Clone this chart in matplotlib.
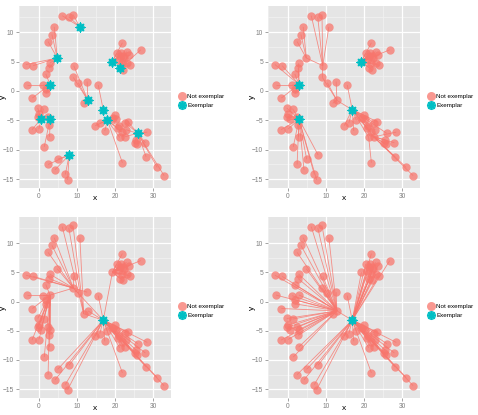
import matplotlib
matplotlib.use('Agg')
import matplotlib.pyplot as plt
from matplotlib.lines import Line2D
import numpy as np

plt.rcParams['font.family'] = ['Liberation Sans', 'DejaVu Sans']

# coordenadas dos pontos
pts_x = [6.2, 7.9, 9.0, 10.8, 4.1, 3.5, 2.5, 4.9, 2.9, 2.8,
         1.9, -3.3, -1.4, 3.0, -3.0, 1.2, 2.0, 2.0, -1.6, 9.2,
         9.1, 10.4, 12.7, 11.8, 12.9, 15.6, 16.9, 18.0, 14.8, 16.0,
         17.3, 19.9, 20.3, 21.0, 22.7, 22.9, 21.2, 22.5, 21.9, 25.9,
         28.4, 27.9, 25.8, 25.1, 28.1, 31.0, 32.8, -0.2, 1.3, -0.1,
         0.6, 3.0, -1.7, 0.1, 2.8, 2.9, 1.5, 8.0, 5.0, 2.5,
         4.3, 7.0, 7.6, 21.9, 26.7, 19.3, 21.4, 20.4, 21.6, 23.0,
         23.6, 22.4, 23.1, 23.8, 21.9, 20.7, 22.1, 21.2, 22.0, 20.8,
         21.8, 23.3, 19.5, 25.5, 0.2, 2.6]
pts_y = [12.8, 12.6, 13.0, 10.9, 10.9, 9.6, 8.4, 5.6, 4.7, 3.9,
         2.9, 4.5, 4.3, 1.1, 1.1, 1.0, 0.3, -0.4, -1.2, 4.3,
         2.3, 1.4, 1.6, -2.1, -1.6, 1.0, -3.2, -5.0, -5.9, -5.5,
         -6.8, -4.1, -4.8, -5.9, -5.4, -6.6, -7.9, -7.8, -12.2, -7.2,
         -7.0, -8.8, -9.1, -8.8, -11.2, -13.0, -14.4, -2.9, -3.0, -4.4,
         -4.8, -4.8, -6.6, -6.5, -5.8, -7.8, -9.5, -10.9, -11.6, -12.5,
         -13.4, -14.2, -15.1, 8.2, 7.0, 5.0, 3.9, 6.4, 6.4, 6.7,
         6.1, 5.6, 4.7, 4.4, 4.7, 5.3, 5.9, 5.9, 3.6, -6.3,
         -7.0, -5.2, -4.6, -8.3, -4.0, -4.4]

# ligacoes de cada painel: destino -> pontos de origem
links_1 = {3: [0, 1, 2], 7: [4, 5, 6, 8, 9, 11, 12], 13: [10, 14, 15, 16, 17, 18],
           24: [19, 20, 21, 22, 23], 26: [25],
           27: [28, 29, 30, 31, 32, 33, 36, 38, 79, 80, 82],
           39: [34, 35, 37, 40, 41, 42, 43, 44, 45, 46, 81, 83],
           50: [47, 48, 49, 52, 53, 84], 51: [54, 55, 56, 85], 57: [58, 59, 60, 61, 62],
           65: [67, 75, 77, 63], 66: [64, 68, 69, 70, 71, 72, 73, 74, 76, 78]}
exemplars_1 = [3, 7, 13, 24, 26, 27, 39, 50, 51, 57, 65, 66]

links_2 = {19: [0, 1, 2, 3, 7], 7: [4, 5, 6], 20: [19], 24: [20, 21, 22, 23],
           26: [24, 25, 27, 28, 29, 30, 31, 32, 33, 34, 35, 36,
                37, 39, 79, 80, 81, 82],
           37: [40, 41, 42, 43, 44, 45, 46, 83], 36: [38],
           13: [8, 9, 10, 11, 12, 14, 15, 16, 17, 18],
           51: [47, 48, 49, 50, 52, 53, 54, 55, 56, 57, 58, 59, 60, 61, 62, 84, 85],
           65: [63, 64, 66, 67, 68, 69, 70, 71, 72, 73, 74, 75, 76, 77, 78]}
exemplars_2 = [13, 26, 51, 65]

links_3 = {23: [0, 1, 2, 3],
           20: [4, 5, 6, 7, 8, 9, 11, 12, 13, 19, 21, 22],
           13: [10, 14, 15, 16, 17, 18, 47, 48, 49, 50, 51, 52, 53, 54, 55, 56, 59, 84, 85],
           26: [20, 23, 24, 25, 27, 28, 29, 30, 31, 32, 33, 34, 35, 36, 37, 38, 39, 40,
                41, 42, 43, 44, 45, 46, 57, 58, 60, 61, 62, 65, 79, 80, 81, 82, 83],
           65: [63, 64, 66, 67, 68, 69, 70, 71, 72, 73, 74, 75, 76, 77, 78]}
exemplars_3 = [26]

links_4 = {24: [0, 1, 2, 3, 4, 5, 6, 7, 8, 9, 10, 11, 12, 13, 14, 15, 16, 17, 18,
                19, 20, 21, 22, 23, 47, 48, 49, 50, 51, 52, 53, 54, 55, 56, 84, 85],
           26: [24, 25, 27, 28, 29, 30, 31, 32, 33, 34, 35, 36, 37, 38, 39, 40, 41,
                42, 43, 44, 45, 46, 57, 58, 59, 60, 61, 62, 63, 64, 65, 66, 67, 68,
                69, 70, 71, 72, 73, 74, 75, 76, 77, 78, 79, 80, 81, 82, 83]}
exemplars_4 = [26]

salmon = '#F8766D'
teal = '#00BFC4'
W, H = 478, 415

fig = plt.figure(figsize=(W / 100, H / 100), dpi=100)
fig.patch.set_facecolor('white')

px = np.array(pts_x)
py = np.array(pts_y)


def painel(rect, links, exemplars, leg_y):
    l, t, r, b = rect
    ax = fig.add_axes([l / W, 1 - b / H, (r - l) / W, (b - t) / H])
    ax.set_facecolor('#E5E5E5')
    ax.set_xlim(-5.1, 34.6)
    ax.set_ylim(-16.5, 14.45)
    for v in [-5, 5, 15, 25]:
        ax.axvline(v, color='#F2F2F2', lw=0.5, zorder=0)
    for v in [-12.5, -7.5, -2.5, 2.5, 7.5, 12.5]:
        ax.axhline(v, color='#F2F2F2', lw=0.5, zorder=0)
    for v in [0, 10, 20, 30]:
        ax.axvline(v, color='white', lw=0.9, zorder=0)
    for v in [-15, -10, -5, 0, 5, 10]:
        ax.axhline(v, color='white', lw=0.9, zorder=0)

    for dest, srcs in links.items():
        for s in srcs:
            ax.plot([px[s], px[dest]], [py[s], py[dest]], color=salmon, lw=0.6,
                    alpha=0.8, zorder=1, solid_capstyle='butt')

    mask = np.ones(len(px), bool)
    mask[exemplars] = False
    ax.scatter(px[mask], py[mask], s=36, color=salmon, alpha=0.75, lw=0, zorder=2)
    ax.scatter(px[exemplars], py[exemplars], s=36, color=teal, alpha=0.85, lw=0, zorder=3)
    ax.scatter(px[exemplars], py[exemplars], s=42, color=teal, marker=(8, 2, 0),
               lw=0.9, zorder=3)

    ax.set_xticks([0, 10, 20, 30])
    ax.set_yticks([-15, -10, -5, 0, 5, 10])
    ax.tick_params(labelsize=4.8, colors='#7F7F7F', length=2, width=0.5, pad=1.5)
    ax.set_xlabel('x', fontsize=6)
    ax.set_ylabel('y', fontsize=6)
    # posicao dos titulos dos eixos (em pixels da figura -> fracao do eixo)
    ax.xaxis.set_label_coords(0.5, -10.5 / (b - t))
    ax.yaxis.set_label_coords(-15.5 / (r - l), 0.5)
    ax.xaxis.label.set_va('center')
    ax.yaxis.label.set_va('center')
    for sp in ax.spines.values():
        sp.set_visible(False)

    handles = [Line2D([], [], marker='o', ls='', color=salmon, ms=6.5, alpha=0.75, mec='none'),
               (Line2D([], [], marker='o', ls='', color=teal, ms=6.5, alpha=0.85, mec='none'),
                Line2D([], [], marker=(8, 2, 0), ls='', color=teal, ms=6.5, mew=0.9))]
    fig.legend(handles, ['Not exemplar', 'Exemplar'], loc='center left',
               bbox_to_anchor=((r + 8) / W, 1 - leg_y / H), frameon=False,
               fontsize=4.5, handlelength=1.0, handletextpad=0.3, labelspacing=0.5,
               borderpad=0, borderaxespad=0)
    return ax


painel((19, 6, 171, 188), links_1, exemplars_1, 101)
painel((268, 6, 420, 188), links_2, exemplars_2, 101)
painel((19, 217, 171, 398), links_3, exemplars_3, 311)
painel((268, 217, 420, 398), links_4, exemplars_4, 311)

plt.savefig('out.png', dpi=100)
